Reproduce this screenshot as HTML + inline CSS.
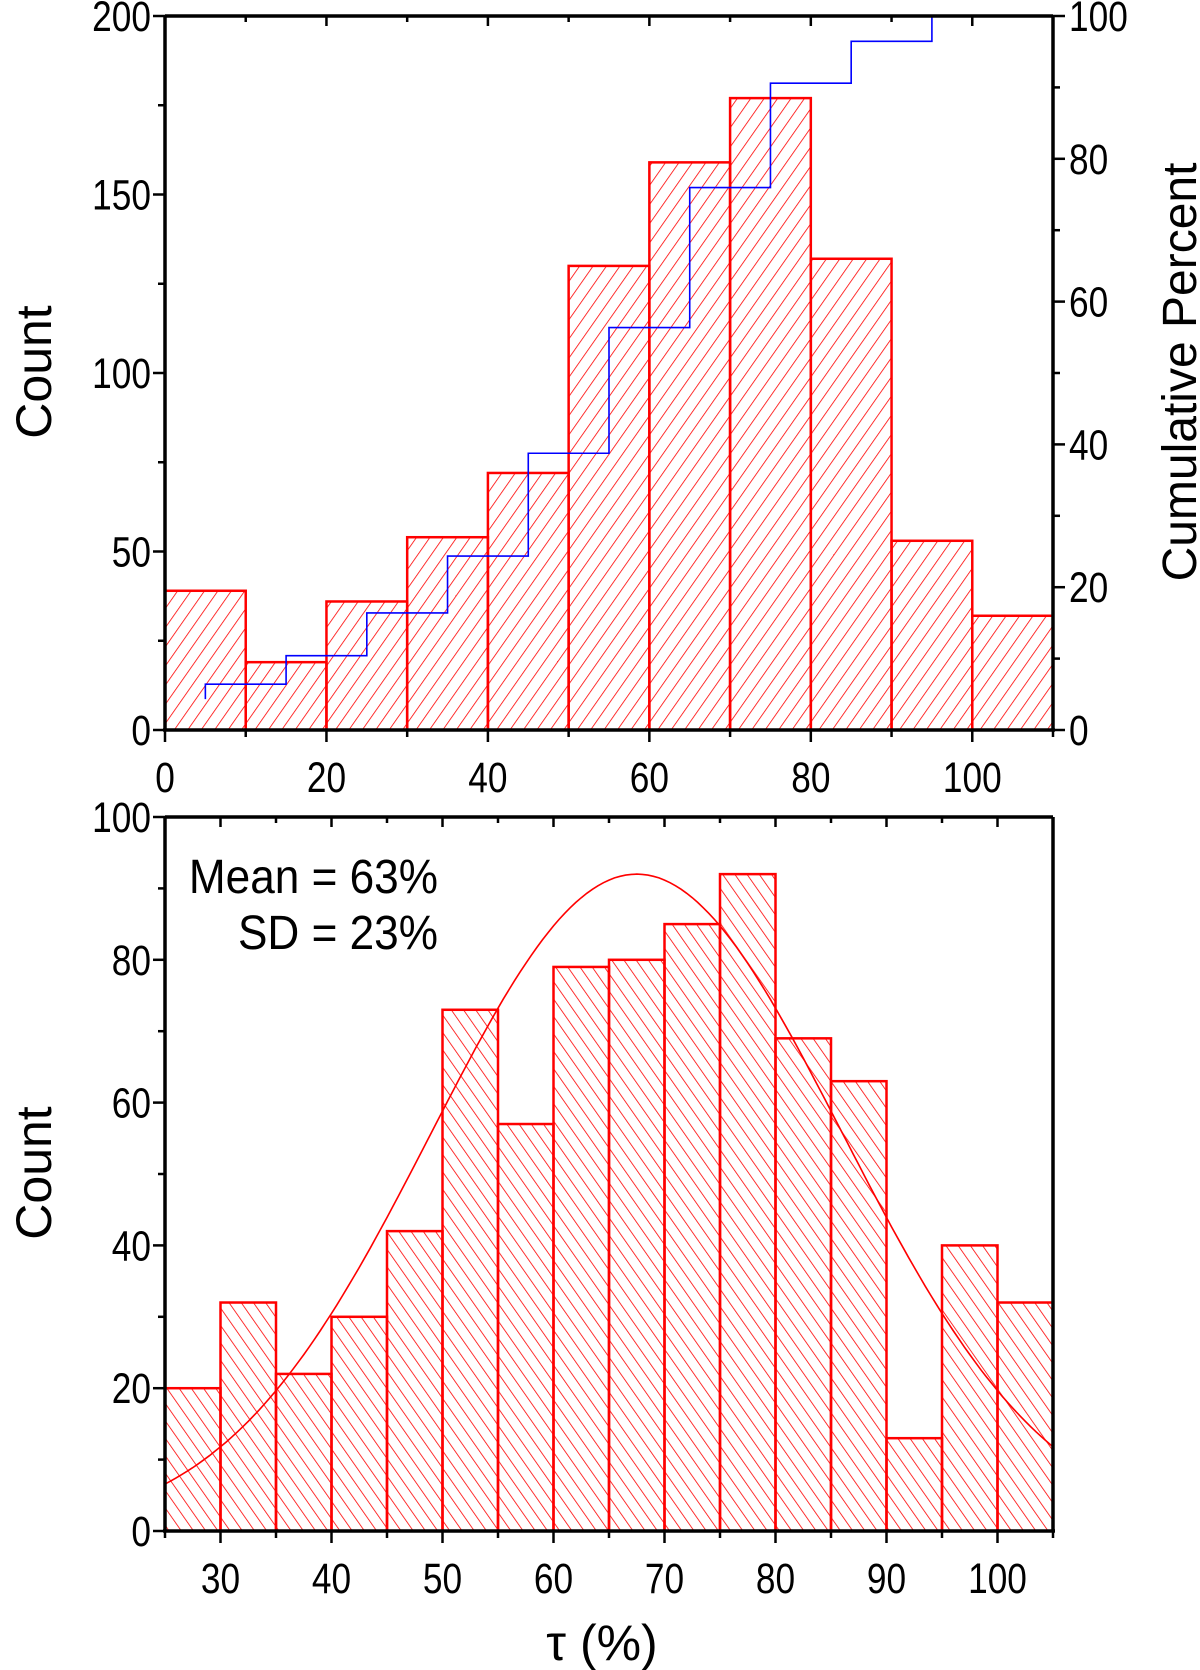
<!DOCTYPE html>
<html><head><meta charset="utf-8">
<style>
html,body{margin:0;padding:0;background:#fff;}
svg{display:block;font-family:"Liberation Sans",sans-serif;}
</style></head>
<body>
<svg id="chart" width="1200" height="1670" viewBox="0 0 1200 1670" xmlns="http://www.w3.org/2000/svg">
<defs>
<pattern id="hatchA" patternUnits="userSpaceOnUse" width="11" height="11" patternTransform="rotate(35)">
<line x1="0" y1="0" x2="0" y2="11" stroke="#ff0000" stroke-width="1.6"/>
</pattern>
<pattern id="hatchB" patternUnits="userSpaceOnUse" width="10" height="10" patternTransform="rotate(-35)">
<line x1="0" y1="0" x2="0" y2="10" stroke="#ff0000" stroke-width="1.6"/>
</pattern>
</defs>
<g id="top"></g>
<g id="bot"></g>
</svg>
<script>
// Top chart data
const topBinStarts = [0,10,20,30,40,50,60,70,80,90,100];
const topCounts = [39,19,36,54,72,130,159,177,132,53,32];
const topYTicks = [0,50,100,150,200];
const topXTicks = [0,20,40,60,80,100];
const topRightTicks = [0,20,40,60,80,100];
// Bottom chart data
const botBinStarts = [25,30,35,40,45,50,55,60,65,70,75,80,85,90,95,100];
const botCounts = [20,32,22,30,42,73,57,79,80,85,92,69,63,13,40,32];
const botYTicks = [0,20,40,60,80,100];
const botXTicks = [30,40,50,60,70,80,90,100];
const fitParams = [67.5, 18.5, 92]; // mean, sd, amplitude

const NS='http://www.w3.org/2000/svg';
function mk(parent,tag,attrs,text){const e=document.createElementNS(NS,tag);for(const k in attrs)e.setAttribute(k,attrs[k]);if(text!==undefined)e.textContent=text;parent.appendChild(e);return e;}
const TF=43; // tick font size
const TSX=0.82;

function tickText(g,x,y,anchor,str,name){
  const t=mk(g,'text',{x:0,y:0,transform:'translate('+x+','+y+') scale('+TSX+',1)','text-anchor':anchor,'font-size':TF},str);
  
  
  return t;
}

const L=165,R=1053;
// ---------- TOP ----------
(function(){
const g=document.getElementById('top');
const T=16,B=730;
const xs=v=>L+(v-0)/(110-0)*(R-L);
const ys=v=>B-(v/200)*(B-T);
const yp=v=>B-(v/100)*(B-T);
const bw=10;
topCounts.forEach((c,i)=>{
  const r=mk(g,'rect',{x:xs(topBinStarts[i]),y:ys(c),width:xs(topBinStarts[i]+bw)-xs(topBinStarts[i]),height:B-ys(c),fill:'url(#hatchA)',stroke:'#ff0000','stroke-width':2.5});
  
  
});
const total=topCounts.reduce((a,b)=>a+b,0);
let acc=0;const cum=topCounts.map(c=>(acc+=c)/total*100);
const ctr=topBinStarts.map(s=>s+bw/2);
let pts=[[ctr[0],cum[0]]];
for(let i=1;i<cum.length;i++){pts.push([ctr[i-1],cum[i]]);if(i<cum.length-1)pts.push([ctr[i],cum[i]]);}
const pl=mk(g,'polyline',{points:pts.map(p=>xs(p[0])+','+yp(p[1])).join(' '),fill:'none',stroke:'#0000ff','stroke-width':1.6});


mk(g,'line',{x1:L,y1:T,x2:L,y2:B,stroke:'#000','stroke-width':3.5});
mk(g,'line',{x1:R,y1:T,x2:R,y2:B,stroke:'#000','stroke-width':3.5});
mk(g,'line',{x1:L,y1:T,x2:R,y2:T,stroke:'#000','stroke-width':3.5});
mk(g,'line',{x1:L-2,y1:B,x2:R+2,y2:B,stroke:'#000','stroke-width':3.5});
for(let v=0;v<=200;v+=25){const maj=v%50===0;mk(g,'line',{x1:L-(maj?12:7),y1:ys(v),x2:L,y2:ys(v),stroke:'#000','stroke-width':2.5});}
topYTicks.forEach(v=>tickText(g,L-14,ys(v)+15,'end',String(v),'left-y-tick-label'));
for(let v=0;v<=100;v+=10){const maj=v%20===0;mk(g,'line',{x1:R,y1:yp(v),x2:R+(maj?12:7),y2:yp(v),stroke:'#000','stroke-width':2.5});}
topRightTicks.forEach(v=>tickText(g,R+16,yp(v)+15,'start',String(v),'right-y-tick-label'));
for(let v=0;v<=110;v+=10){const maj=v%20===0;mk(g,'line',{x1:xs(v),y1:B,x2:xs(v),y2:B+(maj?12:7),stroke:'#000','stroke-width':2.5});mk(g,'line',{x1:xs(v),y1:T,x2:xs(v),y2:T+(maj?10:6),stroke:'#000','stroke-width':2.5});}
topXTicks.forEach(v=>tickText(g,xs(v),B+62,'middle',String(v),'x-tick-label'));
const yt=mk(g,'text',{x:0,y:0,transform:'translate(51,372) rotate(-90)','text-anchor':'middle','font-size':50},'Count');

const rt=mk(g,'text',{x:0,y:0,transform:'translate(1196,372) rotate(-90)','text-anchor':'middle','font-size':48},'Cumulative Percent');

})();

// ---------- BOTTOM ----------
(function(){
const g=document.getElementById('bot');
const T=817,B=1531;
const xs=v=>L+(v-25)/(105-25)*(R-L);
const ys=v=>B-(v/100)*(B-T);
const bw=5;
botCounts.forEach((c,i)=>{
  const r=mk(g,'rect',{x:xs(botBinStarts[i]),y:ys(c),width:xs(botBinStarts[i]+bw)-xs(botBinStarts[i]),height:B-ys(c),fill:'url(#hatchB)',stroke:'#ff0000','stroke-width':2.5});
  
  
});
const [mu,sd,amp]=fitParams;let d='';
for(let x=25;x<=105.001;x+=0.5){const y=amp*Math.exp(-((x-mu)**2)/(2*sd*sd));d+=(d?'L':'M')+xs(x).toFixed(1)+','+ys(y).toFixed(1);}
const fc=mk(g,'path',{d:d,fill:'none',stroke:'#ff0000','stroke-width':1.6});

mk(g,'line',{x1:L,y1:T,x2:L,y2:B,stroke:'#000','stroke-width':3.5});
mk(g,'line',{x1:R,y1:T,x2:R,y2:B,stroke:'#000','stroke-width':3.5});
mk(g,'line',{x1:L,y1:T,x2:R,y2:T,stroke:'#000','stroke-width':3.5});
mk(g,'line',{x1:L-2,y1:B,x2:R+2,y2:B,stroke:'#000','stroke-width':3.5});
for(let v=0;v<=100;v+=10){const maj=v%20===0;mk(g,'line',{x1:L-(maj?12:7),y1:ys(v),x2:L,y2:ys(v),stroke:'#000','stroke-width':2.5});}
botYTicks.forEach(v=>tickText(g,L-14,ys(v)+15,'end',String(v),'y-tick-label'));
for(let v=25;v<=105;v+=5){const maj=v%10===0;mk(g,'line',{x1:xs(v),y1:B,x2:xs(v),y2:B+(maj?12:7),stroke:'#000','stroke-width':2.5});mk(g,'line',{x1:xs(v),y1:T,x2:xs(v),y2:T+(maj?10:6),stroke:'#000','stroke-width':2.5});}
botXTicks.forEach(v=>tickText(g,xs(v),B+62,'middle',String(v),'x-tick-label'));
const yt=mk(g,'text',{x:0,y:0,transform:'translate(51,1173) rotate(-90)','text-anchor':'middle','font-size':50},'Count');

const xt=mk(g,'text',{x:602,y:1660,'text-anchor':'middle','font-size':50},'τ  (%)');

const a1=mk(g,'text',{x:0,y:0,transform:'translate(438,893) scale(0.92,1)','text-anchor':'end','font-size':48},'Mean = 63%');

const a2=mk(g,'text',{x:0,y:0,transform:'translate(438,949) scale(0.92,1)','text-anchor':'end','font-size':48},'SD = 23%');

})();
</script>
</body></html>
